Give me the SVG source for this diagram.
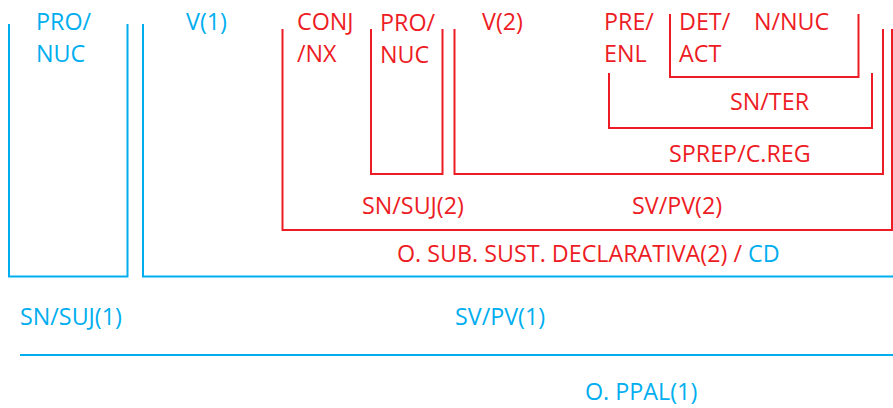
<svg xmlns="http://www.w3.org/2000/svg" width="893" height="408" viewBox="0 0 893 408">
<style>
.b{fill:none;stroke:#00AEEF;stroke-width:2}
.r{fill:none;stroke:#ED1C24;stroke-width:2}
text{font-family:"Open Sans","Liberation Sans",sans-serif;font-size:23.3px}
.tb{fill:#00AEEF}
.tr{fill:#ED1C24}
</style>
<rect width="893" height="408" fill="#fff"/>
<g id="connectors">
<path class="b" d="M9,24 V276.5 H127.5 V24"/>
<path class="b" d="M143,24 V276.5 H893"/>
<path class="b" d="M20,355 H893"/>
<path class="r" d="M282.5,29 V230 H892 V29"/>
<path class="r" d="M371,29 V174 H442.5 V29"/>
<path class="r" d="M454.5,29 V174 H883 V29"/>
<path class="r" d="M609,73 V128 H872 V73"/>
<path class="r" d="M670,14 V77 H858.5 V14"/>
</g>
<g id="n-pro1"><text class="tb" x="36" y="30">PRO/</text><text class="tb" x="36" y="62">NUC</text></g>
<g id="n-v1"><text class="tb" x="186" y="30">V(1)</text></g>
<g id="n-conj"><text class="tr" x="297" y="30">CONJ</text><text class="tr" x="297" y="62">/NX</text></g>
<g id="n-pro2"><text class="tr" x="380" y="31">PRO/</text><text class="tr" x="380" y="63">NUC</text></g>
<g id="n-v2"><text class="tr" x="482" y="30">V(2)</text></g>
<g id="n-pre"><text class="tr" x="604" y="30">PRE/</text><text class="tr" x="604" y="62">ENL</text></g>
<g id="n-det"><text class="tr" x="679" y="30">DET/</text><text class="tr" x="679" y="62">ACT</text></g>
<g id="n-nnuc"><text class="tr" x="754" y="30">N/NUC</text></g>
<g id="n-snter"><text class="tr" x="730" y="110">SN/TER</text></g>
<g id="n-sprep"><text class="tr" x="669" y="162">SPREP/C.REG</text></g>
<g id="n-snsuj2"><text class="tr" x="362" y="214">SN/SUJ(2)</text></g>
<g id="n-svpv2"><text class="tr" x="632" y="214">SV/PV(2)</text></g>
<g id="n-osub"><text x="397" y="262"><tspan class="tr">O. SUB. SUST. DECLARATIVA(2) / </tspan><tspan class="tb">CD</tspan></text></g>
<g id="n-snsuj1"><text class="tb" x="20" y="325">SN/SUJ(1)</text></g>
<g id="n-svpv1"><text class="tb" x="455" y="325">SV/PV(1)</text></g>
<g id="n-oppal"><text class="tb" x="585" y="400">O. PPAL(1)</text></g>
</svg>
